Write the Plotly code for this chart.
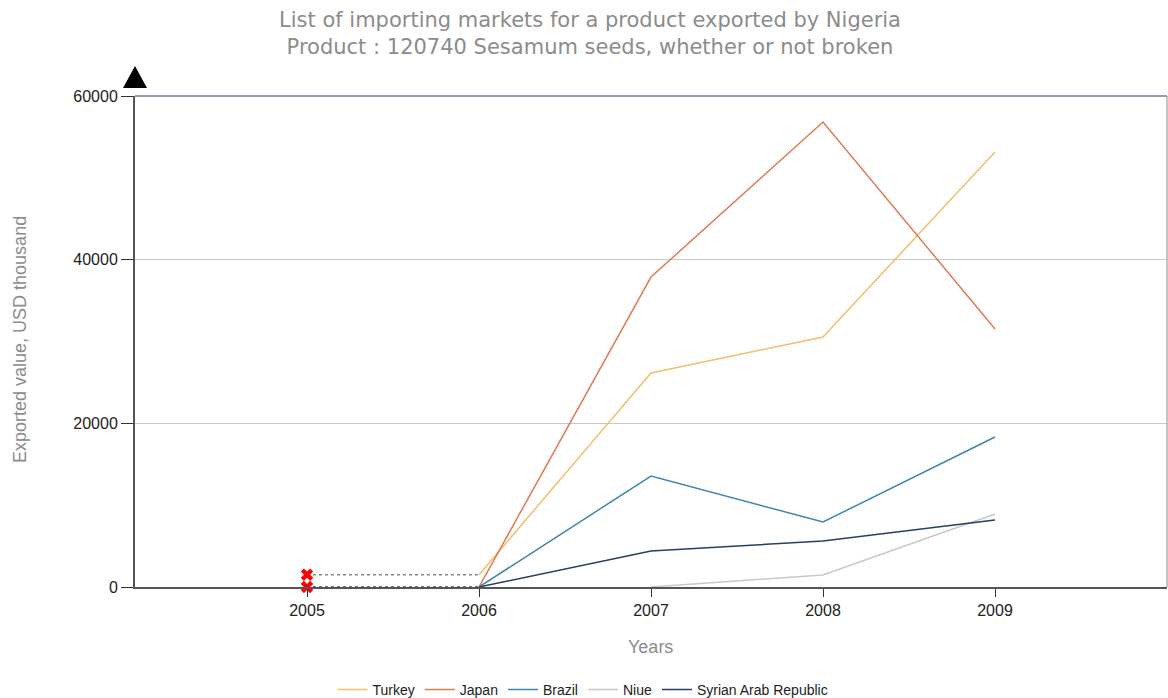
import plotly.graph_objects as go

years = [2005, 2006, 2007, 2008, 2009]
# None = missing value; the 2005 gap is drawn with dotted connectors
turkey = [None, 1500, 26150, 30550, 53160]
japan = [None, 0, 37880, 56820, 31530]
brazil = [None, 0, 13560, 7940, 18330]
niue = [None, None, 0, 1470, 8920]
syria = [None, 0, 4400, 5620, 8190]

missing_years = [2005, 2006]
missing_upper = [1500, 1500]
missing_lower = [0, 0]

series_names = ["Turkey", "Japan", "Brazil", "Niue", "Syrian Arab Republic"]
series_values = [turkey, japan, brazil, niue, syria]
series_colors = ["#F5BE6E", "#E07B54", "#3F86B0", "#C8C8C8", "#2B3D63"]

y_ticks = [0, 20000, 40000, 60000]

FIG_W, FIG_H = 1168, 698
ML, MR, MT, MB = 135, 1, 96, 111
PLOT_W = FIG_W - ML - MR
PLOT_H = FIG_H - MT - MB
PLOT_TOP = MT
PLOT_BOTTOM = PLOT_TOP + PLOT_H
PLOT_LEFT = ML

fig = go.Figure()

fig.add_trace(go.Scatter(x=missing_years, y=missing_upper, mode="lines",
                         line=dict(color="#8A8A8A", width=1.5, dash="dot"),
                         showlegend=False, hoverinfo="skip"))
fig.add_trace(go.Scatter(x=missing_years, y=missing_lower, mode="lines",
                         line=dict(color="#444444", width=1.5, dash="dot"),
                         showlegend=False, hoverinfo="skip"))

for name, vals, col in zip(series_names, series_values, series_colors):
    fig.add_trace(go.Scatter(x=years, y=vals, mode="lines", name=name,
                             line=dict(color=col, width=1.5),
                             connectgaps=False))

fig.add_trace(go.Scatter(x=[missing_years[0], missing_years[0]],
                         y=[missing_upper[0], missing_lower[0]],
                         mode="markers", showlegend=False, hoverinfo="skip",
                         marker=dict(symbol="x", color="#FF0000", size=11,
                                     line=dict(width=0)),
                         cliponaxis=False))

fig.update_layout(
    width=FIG_W, height=FIG_H,
    paper_bgcolor="white", plot_bgcolor="white",
    margin=dict(l=ML, r=MR, t=MT, b=MB, autoexpand=False),
    title=dict(
        text="List of importing markets for a product exported by Nigeria<br>Product : 120740 Sesamum seeds, whether or not broken",
        x=(590 - PLOT_LEFT) / PLOT_W, xref="paper", xanchor="center",
        yref="container", y=1 - 27 / FIG_H, yanchor="top",
        font=dict(family="DejaVu Sans", size=21, color="#8C8C8C")),
    showlegend=True,
    legend=dict(orientation="h", x=(583 - PLOT_LEFT) / PLOT_W, xanchor="center",
                y=(PLOT_BOTTOM - 690) / PLOT_H, yanchor="middle",
                font=dict(family="Liberation Sans", size=14, color="#222222"),
                itemwidth=30, bgcolor="rgba(0,0,0,0)"),
    font=dict(family="Liberation Sans", size=16, color="#222222"),
)

fig.update_xaxes(
    range=[2004, 2010], tickvals=years, ticktext=[str(y) for y in years],
    showgrid=False, zeroline=False, automargin=False,
    showline=True, linecolor="#555555", linewidth=2,
    ticks="outside", ticklen=8, tickcolor="#333333", tickwidth=1,
    tickfont=dict(family="Liberation Sans", size=16, color="#222222"),
)
fig.update_yaxes(
    range=[0, 60000], tickvals=y_ticks, ticktext=[str(v) for v in y_ticks],
    showgrid=True, gridcolor="#C8C8C8", gridwidth=1, zeroline=False, automargin=False,
    showline=True, linecolor="#555555", linewidth=2,
    ticks="outside", ticklen=12, tickcolor="#333333", tickwidth=1,
    tickfont=dict(family="Liberation Sans", size=16, color="#222222"),
)

# axis titles
fig.add_annotation(text="Years", xref="paper", yref="paper",
                   x=(650 - PLOT_LEFT) / PLOT_W, y=(PLOT_BOTTOM - 647) / PLOT_H,
                   xanchor="center", yanchor="middle", showarrow=False,
                   font=dict(family="Liberation Sans", size=18, color="#8C8C8C"))
fig.add_annotation(text="Exported value, USD thousand", xref="paper", yref="paper",
                   x=(20 - PLOT_LEFT) / PLOT_W, y=(PLOT_BOTTOM - 340) / PLOT_H, textangle=-90,
                   xanchor="center", yanchor="middle", showarrow=False,
                   font=dict(family="Liberation Sans", size=18, color="#8C8C8C"))

# frame: top (navy) and right (gray) borders
fig.add_shape(type="line", xref="x domain", yref="y domain", x0=0, x1=1, y0=1, y1=1,
              line=dict(color="#2B3D63", width=1))
fig.add_shape(type="line", xref="x domain", yref="y domain", x0=1, x1=1, y0=0, y1=1,
              line=dict(color="#888888", width=1))
# arrow head on top of y axis
ax = 12 / PLOT_W
fig.add_shape(type="path", xref="x domain", yref="y domain",
              path=f"M {-ax} {1 + 8 / PLOT_H} L {ax} {1 + 8 / PLOT_H} L 0 {1 + 30 / PLOT_H} Z",
              fillcolor="black", line=dict(color="black", width=0))

fig.write_html(
    "out.html",
    config={"displayModeBar": False},
    post_script="document.body.style.margin='0';document.body.style.overflow='hidden';",
)
